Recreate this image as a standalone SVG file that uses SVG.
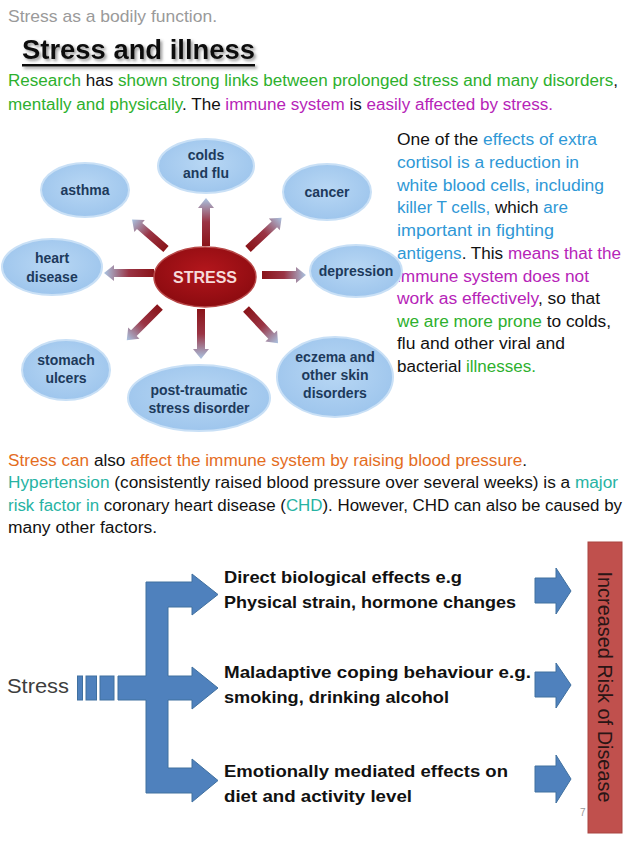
<svg xmlns="http://www.w3.org/2000/svg" width="638" height="851" viewBox="0 0 638 851">
<style>
text{font-family:"Liberation Sans",Arial,sans-serif;}
.body{font-size:16px;fill:#111;}
.g{fill:#2db02d;}
.m{fill:#b624b8;}
.b{fill:#2f98d6;}
.o{fill:#e46d1e;}
.t{fill:#27b3a3;}
.node{fill:url(#blueG);stroke:#c9e0f6;stroke-width:2;}
.nl{font-size:14px;font-weight:bold;fill:#1d3a5c;text-anchor:middle;}
.ra{fill:url(#arrG);}
.flow{font-size:17px;font-weight:bold;fill:#111;}
.blue{fill:#4f81bd;stroke:#40709f;stroke-width:1;}
</style>
<defs>
<radialGradient id="blueG" cx="50%" cy="45%" r="60%">
<stop offset="0" stop-color="#b8d7f4"/>
<stop offset="1" stop-color="#9cc4ec"/>
</radialGradient>
<radialGradient id="redG" cx="50%" cy="40%" r="60%">
<stop offset="0" stop-color="#b3161c"/>
<stop offset="1" stop-color="#8c0b10"/>
</radialGradient>
<linearGradient id="arrG" x1="0" y1="0" x2="1" y2="0">
<stop offset="0" stop-color="#8a1419"/>
<stop offset="0.5" stop-color="#9a3444"/>
<stop offset="1" stop-color="#aac4e2"/>
</linearGradient>
<filter id="sh" x="-10%" y="-30%" width="120%" height="160%">
<feGaussianBlur in="SourceAlpha" stdDeviation="1.5"/>
<feOffset dx="1.5" dy="2" result="b"/>
<feFlood flood-color="#555" flood-opacity="0.6"/>
<feComposite in2="b" operator="in"/>
<feMerge><feMergeNode/><feMergeNode in="SourceGraphic"/></feMerge>
</filter>
<path id="ra" d="M0,-4 L1,-4 L1,-8 L1,0 Z"/>
</defs>

<!-- header -->
<text x="8" y="22" font-size="17" fill="#9a9a9a" textLength="209" lengthAdjust="spacingAndGlyphs">Stress as a bodily function.</text>
<g filter="url(#sh)">
<text x="22" y="59" font-size="28" font-weight="bold" fill="#111" textLength="233" lengthAdjust="spacingAndGlyphs">Stress and illness</text>
<rect x="22" y="64" width="233" height="2.5" fill="#111"/>
</g>
<text class="body" x="8" y="86" textLength="610" lengthAdjust="spacingAndGlyphs"><tspan class="g">Research</tspan> has <tspan class="g">shown strong links between prolonged stress and many disorders</tspan>,</text>
<text class="body" x="8" y="110" textLength="545" lengthAdjust="spacingAndGlyphs"><tspan class="g">mentally and physically</tspan>. The <tspan class="m">immune system</tspan> is <tspan class="m">easily affected by stress.</tspan></text>

<!-- right paragraph -->
<g id="para-right" class="body">
<text x="397" y="145" textLength="200" lengthAdjust="spacingAndGlyphs">One of the <tspan class="b">effects of extra</tspan></text>
<text x="397" y="168" class="b" textLength="182" lengthAdjust="spacingAndGlyphs">cortisol is a reduction in</text>
<text x="397" y="191" class="b" textLength="207" lengthAdjust="spacingAndGlyphs">white blood cells, including</text>
<text x="397" y="213" textLength="171" lengthAdjust="spacingAndGlyphs"><tspan class="b">killer T cells,</tspan> which <tspan class="b">are</tspan></text>
<text x="397" y="236" class="b" textLength="157" lengthAdjust="spacingAndGlyphs">important in fighting</text>
<text x="397" y="259" textLength="224" lengthAdjust="spacingAndGlyphs"><tspan class="b">antigens</tspan>. This <tspan class="m">means that the</tspan></text>
<text x="397" y="282" class="m" textLength="192" lengthAdjust="spacingAndGlyphs">immune system does not</text>
<text x="397" y="304" textLength="203" lengthAdjust="spacingAndGlyphs"><tspan class="m">work as effectively</tspan>, so that</text>
<text x="397" y="327" textLength="214" lengthAdjust="spacingAndGlyphs"><tspan class="g">we are more prone</tspan> to colds,</text>
<text x="397" y="349" textLength="168" lengthAdjust="spacingAndGlyphs">flu and other viral and</text>
<text x="397" y="372" textLength="139" lengthAdjust="spacingAndGlyphs">bacterial <tspan class="g">illnesses.</tspan></text>
</g>

<!-- radial connectors -->
<g id="connectors">
<path class="ra" transform="translate(206,246) rotate(-90)" d="M0,-4 L38,-4 L38,-8 L48,0 L38,8 L38,4 L0,4 Z"/>
<path class="ra" transform="translate(201,309) rotate(90)" d="M0,-4 L40,-4 L40,-8 L50,0 L40,8 L40,4 L0,4 Z"/>
<path class="ra" transform="translate(154,273) rotate(180)" d="M0,-4 L40,-4 L40,-8 L50,0 L40,8 L40,4 L0,4 Z"/>
<path class="ra" transform="translate(262,275) rotate(0)" d="M0,-4 L34,-4 L34,-8 L44,0 L34,8 L34,4 L0,4 Z"/>
<path class="ra" transform="translate(166,249) rotate(-139)" d="M0,-4 L35,-4 L35,-8 L45,0 L35,8 L35,4 L0,4 Z"/>
<path class="ra" transform="translate(248,249) rotate(-43)" d="M0,-4 L36,-4 L36,-8 L46,0 L36,8 L36,4 L0,4 Z"/>
<path class="ra" transform="translate(160,307) rotate(135)" d="M0,-4 L37,-4 L37,-8 L47,0 L37,8 L37,4 L0,4 Z"/>
<path class="ra" transform="translate(246,309) rotate(47)" d="M0,-4 L37,-4 L37,-8 L47,0 L37,8 L37,4 L0,4 Z"/>
</g>

<!-- nodes -->
<g id="n-colds"><ellipse class="node" cx="206" cy="166" rx="48" ry="27"/><text class="nl" x="206" y="160">colds</text><text class="nl" x="206" y="178">and flu</text></g>
<g id="n-asthma"><ellipse class="node" cx="85" cy="190" rx="44" ry="27"/><text class="nl" x="85" y="195">asthma</text></g>
<g id="n-cancer"><ellipse class="node" cx="327" cy="192" rx="44" ry="28"/><text class="nl" x="327" y="197">cancer</text></g>
<g id="n-heart"><ellipse class="node" cx="52" cy="267" rx="50" ry="28"/><text class="nl" x="52" y="263">heart</text><text class="nl" x="52" y="282">disease</text></g>
<g id="n-depression"><ellipse class="node" cx="356" cy="271" rx="46" ry="26"/><text class="nl" x="356" y="276">depression</text></g>
<g id="n-stress"><ellipse cx="205" cy="277" rx="51" ry="30" fill="url(#redG)" stroke="#b84848" stroke-width="1.5"/><text x="205" y="283" font-size="16" font-weight="bold" fill="#f6dada" text-anchor="middle">STRESS</text></g>
<g id="n-stomach"><ellipse class="node" cx="66" cy="370" rx="44" ry="30"/><text class="nl" x="66" y="365">stomach</text><text class="nl" x="66" y="383">ulcers</text></g>
<g id="n-ptsd"><ellipse class="node" cx="199" cy="398" rx="71" ry="33"/><text class="nl" x="199" y="395">post-traumatic</text><text class="nl" x="199" y="413">stress disorder</text></g>
<g id="n-eczema"><ellipse class="node" cx="335" cy="377" rx="58" ry="40"/><text class="nl" x="335" y="362">eczema and</text><text class="nl" x="335" y="380">other skin</text><text class="nl" x="335" y="398">disorders</text></g>

<!-- middle paragraph -->
<g id="para-mid" class="body">
<text x="8" y="466" textLength="519" lengthAdjust="spacingAndGlyphs"><tspan class="o">Stress can</tspan> also <tspan class="o">affect the immune system by raising blood pressure</tspan>.</text>
<text x="8" y="488" textLength="610" lengthAdjust="spacingAndGlyphs"><tspan class="t">Hypertension</tspan> (consistently raised blood pressure over several weeks) is a <tspan class="t">major</tspan></text>
<text x="8" y="511" textLength="614" lengthAdjust="spacingAndGlyphs"><tspan class="t">risk factor in</tspan> coronary heart disease (<tspan class="t">CHD</tspan>). However, CHD can also be caused by</text>
<text x="8" y="533" textLength="149" lengthAdjust="spacingAndGlyphs">many other factors.</text>
</g>

<!-- flow diagram -->
<g id="n-stress2">
<text x="7" y="693" font-size="21" fill="#3d3d3d" textLength="62" lengthAdjust="spacingAndGlyphs">Stress</text>
<rect class="blue" x="77.5" y="676" width="5" height="24"/>
<rect class="blue" x="86" y="676" width="10.5" height="24"/>
<rect class="blue" x="100" y="676" width="14" height="24"/>
</g>
<g id="branch">
<path class="blue" d="M146,582 L192,582 L192,574 L218,594.5 L192,615 L192,607 L168,607 L168,676 L192,676 L192,667 L218,688 L192,709 L192,700 L168,700 L168,768 L192,768 L192,759 L218,780.5 L192,802 L192,793 L146,793 L146,700 L118,700 L118,676 L146,676 Z"/>
</g>
<g id="n-direct"><text class="flow" x="224" y="583" textLength="238" lengthAdjust="spacingAndGlyphs">Direct biological effects e.g</text><text class="flow" x="224" y="608" textLength="292" lengthAdjust="spacingAndGlyphs">Physical strain, hormone changes</text></g>
<g id="n-maladaptive"><text class="flow" x="224" y="678" textLength="307" lengthAdjust="spacingAndGlyphs">Maladaptive coping behaviour e.g.</text><text class="flow" x="224" y="703" textLength="225" lengthAdjust="spacingAndGlyphs">smoking, drinking alcohol</text></g>
<g id="n-emotional"><text class="flow" x="224" y="777" textLength="284" lengthAdjust="spacingAndGlyphs">Emotionally mediated effects on</text><text class="flow" x="224" y="802" textLength="188" lengthAdjust="spacingAndGlyphs">diet and activity level</text></g>
<g id="out-arrows">
<path class="blue" d="M535,578 L556,578 L556,568 L571,591 L556,614 L556,603 L535,603 Z"/>
<path class="blue" d="M535,672 L556,672 L556,663 L571,685 L556,708 L556,697 L535,697 Z"/>
<path class="blue" d="M535,766 L556,766 L556,755 L571,779 L556,803 L556,792 L535,792 Z"/>
</g>
<g id="n-risk">
<rect x="588" y="542" width="34" height="291" fill="#c0504d" stroke="#a94440" stroke-width="1"/>
<text transform="translate(598,687) rotate(90)" font-size="20" fill="#2a1515" text-anchor="middle" textLength="231" lengthAdjust="spacingAndGlyphs">Increased Risk of Disease</text>
</g>
<text x="580" y="816" font-size="10" fill="#999">7</text>
</svg>
